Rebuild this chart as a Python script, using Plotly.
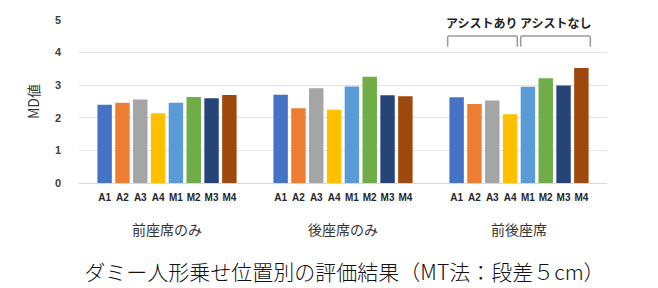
import plotly.graph_objects as go

groups = ["前座席のみ", "後座席のみ", "前後座席"]
series = ["A1", "A2", "A3", "A4", "M1", "M2", "M3", "M4"]
colors = ["#4472C4", "#ED7D31", "#A5A5A5", "#FFC000", "#5B9BD5", "#70AD47", "#264478", "#9E480E"]
values = {
    "A1": [2.40, 2.71, 2.63],
    "A2": [2.46, 2.29, 2.42],
    "A3": [2.56, 2.91, 2.53],
    "A4": [2.14, 2.25, 2.11],
    "M1": [2.46, 2.96, 2.95],
    "M2": [2.64, 3.26, 3.21],
    "M3": [2.60, 2.69, 2.99],
    "M4": [2.70, 2.66, 3.53],
}
y_ticks = [0, 1, 2, 3, 4, 5]
bracket_labels = ["アシストあり", "アシストなし"]
title_text = "ダミー人形乗せ位置別の評価結果（MT法：段差５cm）"
y_title = "MD値"

BARGAP = 0.19
GROUPGAP = 0.19
n = len(series)
slot = (1 - BARGAP) / n
half_bar = slot * (1 - GROUPGAP) / 2

fig = go.Figure()
for s, c in zip(series, colors):
    fig.add_trace(go.Bar(name=s, x=groups, y=values[s], marker=dict(color=c, line=dict(width=0)),
                         showlegend=False))

# positions of each bar (category index units)
tickvals, ticktext = [], []
for j in range(len(groups)):
    for i, s in enumerate(series):
        tickvals.append(j + (i - (n - 1) / 2) * slot)
        ticktext.append(s)
# invisible trace to activate xaxis2
fig.add_trace(go.Scatter(x=[tickvals[0]], y=[0], xaxis="x2", mode="markers",
                         marker=dict(opacity=0), showlegend=False, hoverinfo="skip"))

fig.update_layout(
    width=658, height=288,
    margin=dict(l=79, r=51, t=20, b=105),
    paper_bgcolor="white", plot_bgcolor="white",
    barmode="group", bargap=BARGAP, bargroupgap=GROUPGAP,
    font=dict(family="Noto Sans CJK JP", color="#333333"),
    xaxis=dict(type="category", range=[-0.5, 2.5], showgrid=False, zeroline=False, showline=False,
               ticks="", ticklabelstandoff=37, automargin=False,
               tickfont=dict(family="Noto Sans CJK JP", size=14, color="#333333")),
    xaxis2=dict(overlaying="x", anchor="y", side="bottom", range=[-0.5, 2.5],
                tickmode="array", tickvals=tickvals, ticktext=ticktext,
                showgrid=False, zeroline=False, showline=False, ticks="",
                ticklabelstandoff=7, automargin=False,
                tickfont=dict(family="Liberation Sans", size=10, color="#262626", weight="bold")),
    yaxis=dict(range=[0, 5], tickvals=y_ticks, showgrid=True, gridcolor="#E3E3E3", gridwidth=1,
               zeroline=True, zerolinecolor="#D9D9D9", zerolinewidth=1, showline=False,
               ticks="", ticklabelstandoff=17, automargin=False,
               tickfont=dict(family="Liberation Sans", size=11, color="#404040", weight="bold"),
               title=dict(text=y_title, standoff=11,
                          font=dict(family="Noto Sans CJK JP", size=14, color="#333333"))),
    title=dict(text=title_text, x=344.5 / 658, xanchor="center", y=1 - 273 / 288, yanchor="middle",
               automargin=False,
               font=dict(family="Noto Sans CJK JP", size=21, color="#111111", weight=300)),
)

# brackets above the last group
gj = len(groups) - 1
first = tickvals[gj * n]
last = tickvals[gj * n + n - 1]
mid_l = tickvals[gj * n + 3]
mid_r = tickvals[gj * n + 4]
spans = [(first - half_bar - 0.01, mid_l + half_bar), (mid_r - half_bar, last + half_bar + 0.01)]
y_top, y_bot = 4.51, 4.18
r = 0.008
for (x0, x1), lab in zip(spans, bracket_labels):
    path = (f"M {x0} {y_bot} L {x0} {y_top - 0.05} Q {x0} {y_top} {x0 + r} {y_top} "
            f"L {x1 - r} {y_top} Q {x1} {y_top} {x1} {y_top - 0.05} L {x1} {y_bot}")
    fig.add_shape(type="path", path=path, xref="x", yref="y",
                  line=dict(color="#9A9A9A", width=1.5), layer="above")
    fig.add_annotation(x=(x0 + x1) / 2, y=4.92, xref="x", yref="y", text=lab, showarrow=False,
                       bgcolor="white", borderpad=0,
                       font=dict(family="Noto Sans CJK JP", size=12, color="#222222", weight="bold"))

fig.write_html("out.html", config={"displayModeBar": False},
               post_script="document.body.style.margin='0';document.body.style.overflow='hidden';")
